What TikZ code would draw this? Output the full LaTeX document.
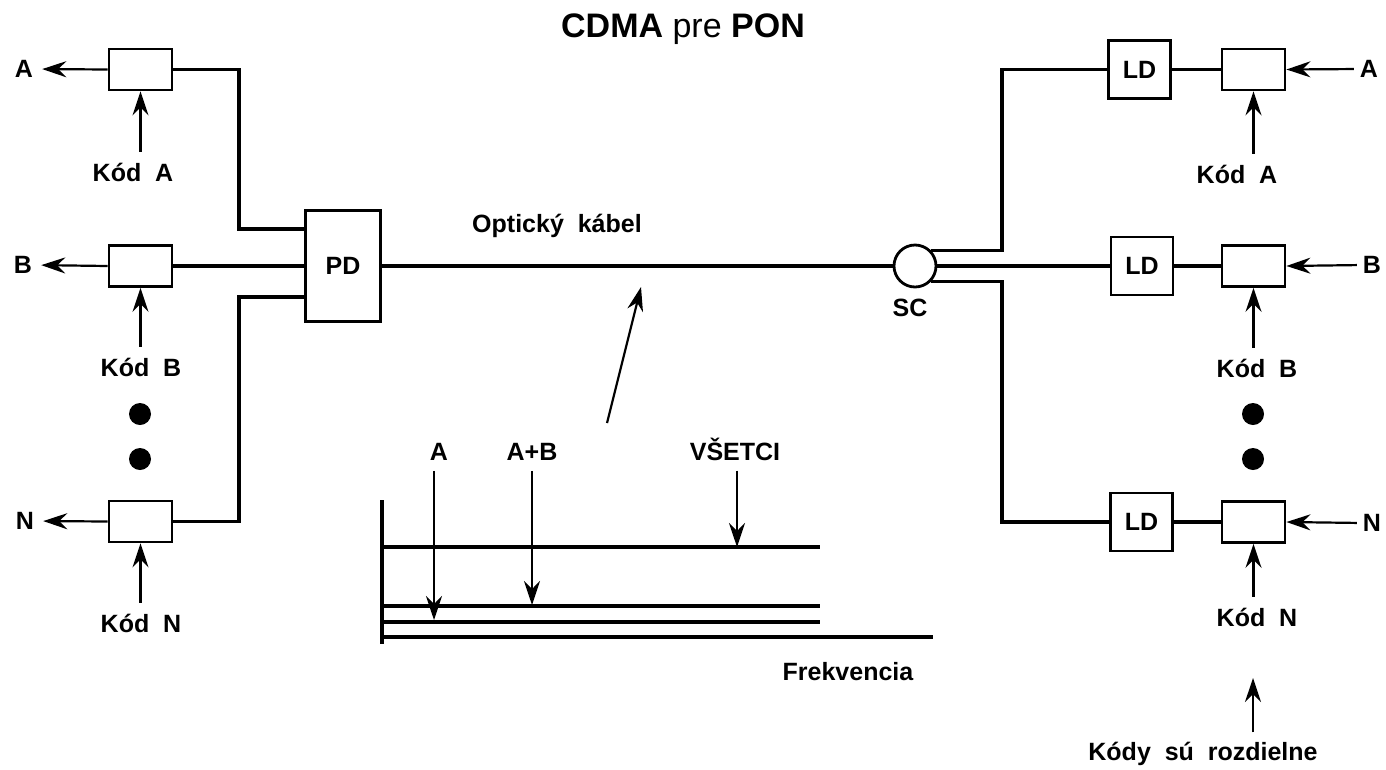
\documentclass[tikz,border=0pt]{standalone}
\usepackage{fontspec}
\setmainfont{Liberation Sans}
\usetikzlibrary{arrows.meta,calc}
\tikzset{
  lab/.style={font=\bfseries\fontsize{25}{30}\selectfont, inner sep=0pt},
  box/.style={draw, line width=2.8pt, minimum width=63pt, minimum height=41pt, inner sep=0pt},
  ldbox/.style={draw, line width=2.8pt, minimum width=62pt, minimum height=58pt, inner sep=0pt, font=\bfseries\fontsize{25}{30}\selectfont},
  pdbox/.style={draw, line width=2.8pt, minimum width=75pt, minimum height=111pt, inner sep=0pt, font=\bfseries\fontsize{25}{30}\selectfont},
  scnode/.style={draw, circle, line width=2.8pt, minimum size=42pt, inner sep=0pt},
  dot/.style={fill, circle, minimum size=22pt, inner sep=0pt},
  conn/.style={line width=3.5pt},
  thickconn/.style={line width=4.2pt},
  arr/.style={line width=2.2pt, -{Stealth[length=24pt,width=16pt,inset=8pt]}},
  axis/.style={line width=3.4pt}
}
\begin{document}
\begin{tikzpicture}[x=1pt,y=-1pt]
\useasboundingbox (0,0) rectangle (1386,769);

% title
\node[anchor=base, inner sep=0pt, font=\fontsize{34}{40}\selectfont] (title) at (683,37) {\textbf{CDMA} pre \textbf{PON}};

% left side boxes
\node[box] (bA) at (140.5,69.5) {};
\node[box] (bB) at (140.5,266) {};
\node[box] (bN) at (140.5,521.5) {};
\node[pdbox] (PD) at (343,266) {PD};

\node[lab] (lA) at (24,69) {A};
\node[lab] (lB) at (23,265) {B};
\node[lab] (lN) at (25,521) {N};

\node[lab] (lkA) at (133,172) {Kód\ \ A};
\node[lab] (lkB) at (141,367) {Kód\ \ B};
\node[lab] (lkN) at (141,623) {Kód\ \ N};

\node[dot] (dl1) at (140,414) {};
\node[dot] (dl2) at (140,459) {};

\draw[arr, shorten >=9pt] (bA.west) -- (lA.east);
\draw[arr, shorten >=9pt] (bB.west) -- (lB.east);
\draw[arr, shorten >=9pt] (bN.west) -- (lN.east);

\draw[arr, shorten <=11pt] (bA.south |- lkA.north) -- (bA.south);
\draw[arr, shorten <=11pt] (bB.south |- lkB.north) -- (bB.south);
\draw[arr, shorten <=11pt] (bN.south |- lkN.north) -- (bN.south);

\coordinate (j0) at (239,0);
\coordinate (pdA) at ($(PD.west)+(0,-37)$);
\coordinate (pdN) at ($(PD.west)+(0,31)$);
\draw[conn] (bA.east) -| (j0 |- pdA) -- (pdA);
\draw[thickconn] (bB.east) -- (PD.west);
\draw[conn] (bN.east) -| (j0 |- pdN) -- (pdN);

% fibre and splitter
\node[scnode] (SC) at (915,266) {};
\node[lab] (lSC) at (910,308) {SC};
\draw[conn] (PD.east) -- (SC.west);
\node[lab, anchor=base] (lOpt) at (557,232) {Optický\ \ kábel};
\coordinate (oa) at (607,423);
\coordinate (ob) at (641,287);
\draw[arr] (oa) -- (ob);

% right side
\node[ldbox] (LDA) at (1139.5,69.5) {LD};
\node[ldbox] (LDB) at (1142,266) {LD};
\node[ldbox] (LDN) at (1141.5,522) {LD};
\node[box] (rA) at (1253.5,69.5) {};
\node[box] (rB) at (1253.5,266) {};
\node[box] (rN) at (1253.5,522) {};

\node[lab] (lrA) at (1369,69) {A};
\node[lab] (lrB) at (1372,265) {B};
\node[lab] (lrN) at (1372,523) {N};

\node[lab] (lrkA) at (1237,174) {Kód\ \ A};
\node[lab] (lrkB) at (1257,368) {Kód\ \ B};
\node[lab] (lrkN) at (1257,617) {Kód\ \ N};

\node[dot] (dr1) at (1253,414) {};
\node[dot] (dr2) at (1253,459) {};

\coordinate (j1) at (1002,0);
\draw[conn] (SC.43) -| (j1 |- LDA.west) -- (LDA.west);
\draw[thickconn] (SC.east) -- (LDB.west);
\draw[conn] (SC.-43) -| (j1 |- LDN.west) -- (LDN.west);

\draw[conn] (LDA.east) -- (rA.west);
\draw[conn] (LDB.east) -- (rB.west);
\draw[thickconn] (LDN.east) -- (rN.west);

\draw[arr, shorten <=6pt] (lrA.west) -- (rA.east);
\draw[arr, shorten <=6pt] (lrB.west) -- (rB.east);
\draw[arr, shorten <=6pt] (lrN.west) -- (rN.east);

\draw[arr, shorten <=11pt] (rA.south |- lrkA.north) -- (rA.south);
\draw[arr, shorten <=11pt] (rB.south |- lrkB.north) -- (rB.south);
\draw[arr, shorten <=11pt] (rN.south |- lrkN.north) -- (rN.south);

\node[lab, anchor=base] (lKody) at (1203,760) {Kódy\ \ sú\ \ rozdielne};
\coordinate (kt) at (1253,678);
\draw[arr, shorten <=9pt] (kt |- lKody.north) -- (kt);

% spectrum chart
\coordinate (ytop) at (382,500);
\coordinate (ybot) at (382,644);
\draw[axis] (ytop) -- (ybot);
\coordinate (l1a) at (382,547); \coordinate (l1b) at (820,547);
\coordinate (l2a) at (382,606); \coordinate (l2b) at (820,606);
\coordinate (l3a) at (382,622); \coordinate (l3b) at (820,622);
\coordinate (l4a) at (382,637); \coordinate (l4b) at (933,637);
\draw[axis] (l1a) -- (l1b);
\draw[axis] (l2a) -- (l2b);
\draw[axis] (l3a) -- (l3b);
\draw[axis] (l4a) -- (l4b);

\node[lab] (lcA) at (439,452) {A};
\node[lab] (lcAB) at (532,452) {A+B};
\node[lab] (lcV) at (735,449) {VŠETCI};
\coordinate (ta) at (434,620);
\coordinate (tab) at (532,605);
\coordinate (tv) at (737,547);
\draw[arr, shorten <=10pt] (ta |- lcA.south) -- (ta);
\draw[arr, shorten <=10pt] (tab |- lcAB.south) -- (tab);
\draw[arr, shorten <=10pt] (tv |- lcV.south) -- (tv);

\node[lab, anchor=base] (lFr) at (848,680) {Frekvencia};
\end{tikzpicture}
\end{document}
